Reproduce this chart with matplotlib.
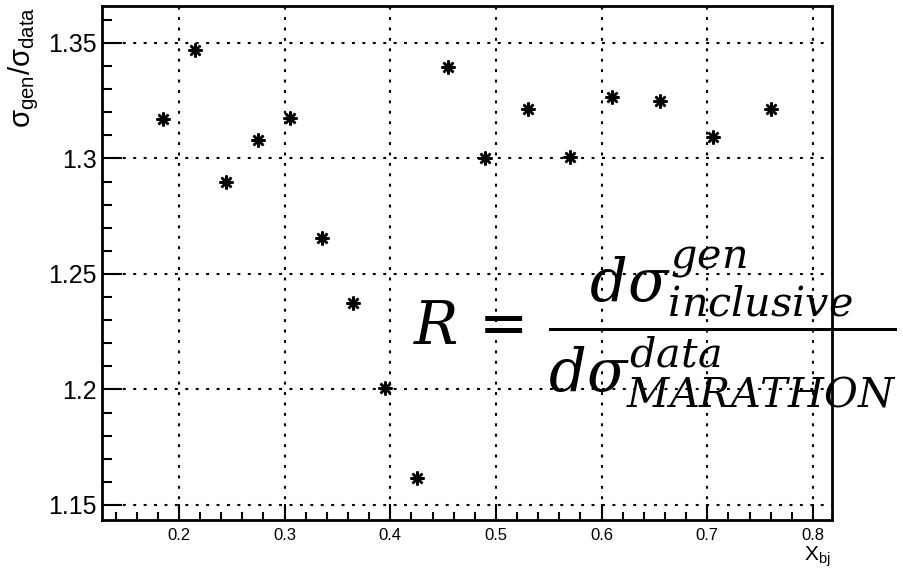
import matplotlib
matplotlib.use("Agg")
import matplotlib.pyplot as plt
from matplotlib.ticker import MultipleLocator, FixedLocator

# ---- data ----
x_bj = [0.185, 0.215, 0.245, 0.275, 0.305, 0.335, 0.365, 0.395, 0.425,
        0.455, 0.49, 0.53, 0.57, 0.61, 0.655, 0.705, 0.76]
ratio = [1.317, 1.347, 1.290, 1.308, 1.3175, 1.2656, 1.2373, 1.2006, 1.1617,
         1.3396, 1.3004, 1.3214, 1.3006, 1.3268, 1.3247, 1.3095, 1.3214]
xticks = [0.2, 0.3, 0.4, 0.5, 0.6, 0.7, 0.8]
xtick_labels = ["0.2", "0.3", "0.4", "0.5", "0.6", "0.7", "0.8"]
yticks = [1.15, 1.2, 1.25, 1.3, 1.35]
ytick_labels = ["1.15", "1.2", "1.25", "1.3", "1.35"]

plt.rcParams['font.family'] = ['Liberation Sans', 'DejaVu Sans']
plt.rcParams['mathtext.fontset'] = 'custom'
plt.rcParams['mathtext.rm'] = 'Liberation Sans'
plt.rcParams['mathtext.it'] = 'Liberation Sans:italic'
plt.rcParams['mathtext.default'] = 'rm'

NARROW = ['Liberation Sans Narrow', 'Liberation Sans']

W, H = 904, 569
fig = plt.figure(figsize=(W / 100, H / 100), dpi=100)
ax = fig.add_axes([102 / W, 1 - 520 / H, (832 - 102) / W, (520 - 6) / H])

ax.plot(x_bj, ratio, linestyle='none', marker=(8, 2, 0), markersize=10,
        markeredgewidth=1.8, color='black', zorder=3)

ax.set_xlim(0.1272, 0.818)
ax.set_ylim(1.1435, 1.366)

ax.xaxis.set_major_locator(FixedLocator(xticks))
ax.set_xticklabels(xtick_labels, family=NARROW, fontsize=12)
ax.xaxis.set_minor_locator(MultipleLocator(0.02))
ax.yaxis.set_major_locator(FixedLocator(yticks))
ax.set_yticklabels(ytick_labels, fontsize=18)
ax.yaxis.set_minor_locator(MultipleLocator(0.01))

ax.tick_params(axis='x', which='major', direction='in', length=11.5, width=1.5, pad=6,
               top=False, bottom=True)
ax.tick_params(axis='x', which='minor', direction='in', length=5.8, width=1.5,
               top=False, bottom=True)
ax.tick_params(axis='y', which='major', direction='in', length=14.4, width=1.5, pad=4,
               left=True, right=False)
ax.tick_params(axis='y', which='minor', direction='in', length=7.2, width=1.5,
               left=True, right=False)

for s in ax.spines.values():
    s.set_linewidth(2.0)

ax.grid(True, which='major', color='black', linewidth=1.5, linestyle=(0, (1.4, 3.6)))
ax.set_axisbelow(False)

# axis titles
fig.text(24 / W, 1 - 7 / H, r'$\sigma_{\rm gen}/\sigma_{\rm data}$', rotation=90,
         ha='center', va='top', fontsize=21)
fig.text(831 / W, 1 - 569 / H, r'X$_{\rm bj}$', ha='right', va='bottom', fontsize=15,
         family=NARROW)

# formula
fig.text(413 / W, 1 - 345 / H,
         r'$\mathit{R}\,=\,\dfrac{\mathit{d}\mathit{\sigma}^{\mathit{gen}}_{\mathit{inclusive}}}'
         r'{\mathit{d}\mathit{\sigma}^{\mathit{data}}_{\mathit{MARATHON}}}$',
         ha='left', va='baseline', fontsize=42.5, math_fontfamily='dejavuserif')

fig.savefig('out.png', dpi=100)
